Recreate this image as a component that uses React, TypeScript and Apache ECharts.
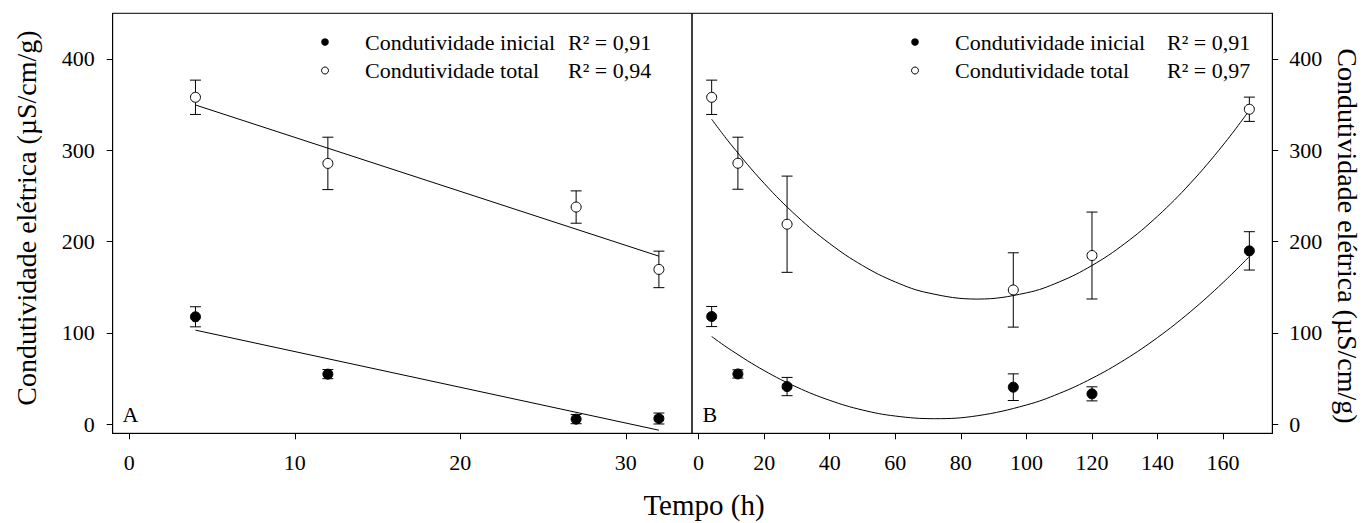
import React, { useEffect, useRef } from "react";
import * as echarts from "echarts";

// ---------- data ----------
const leftTimes = [4, 12, 27, 32];
const leftInitial = [117.6, 54.8, 5.5, 6.2];
const leftInitialErr = [11, 5, 5, 6];
const leftTotal = [358, 285.6, 237.8, 169.5];
const leftTotalErr = [18.8, 28.7, 17.7, 20];
const leftFitTimes = [4, 32];
const leftInitialFit = [103, -6.6];
const leftTotalFit = [349.6, 184];

const rightTimes = [4, 12, 27, 96, 120, 168];
const rightInitial = [117.9, 55, 41.2, 40.5, 33.2, 189.8];
const rightInitialErr = [11, 4.5, 10, 14.6, 7.7, 21];
const rightTotal = [358, 285.8, 219, 147, 184.7, 344.9];
const rightTotalErr = [18.8, 28.5, 52.7, 40.7, 47.6, 13.3];
// regression curves
const rightInitialFitTimes = [4, 10, 20, 30, 40, 50, 60, 72, 85, 100, 110, 120, 130, 140, 150, 160, 168];
const rightInitialFit = [96, 80.9, 58.7, 40.5, 26.1, 15.5, 8.9, 6, 9.2, 21, 33.6, 50.2, 70.6, 94.9, 123.1, 155.2, 183.6];
const rightTotalFitTimes = [4, 10, 20, 30, 40, 50, 60, 70, 85, 100, 110, 120, 130, 140, 150, 160, 168];
const rightTotalFit = [334, 305.8, 263.8, 227.8, 197.8, 173.8, 155.8, 143.8, 137, 143.8, 155.8, 173.8, 197.8, 227.8, 263.8, 305.8, 343.7];

const leftXTicks = [0, 10, 20, 30];
const rightXTicks = [0, 20, 40, 60, 80, 100, 120, 140, 160];
const yTicks = [0, 100, 200, 300, 400];

const legendLabels = ["Condutividade inicial", "Condutividade total"];
const leftR2 = ["R² = 0,91", "R² = 0,94"];
const rightR2 = ["R² = 0,91", "R² = 0,97"];
const panelLetters = ["A", "B"];
const xTitle = "Tempo (h)";
const yTitle = "Condutividade elétrica (µS/cm/g)";

// ---------- helpers ----------
const FONT = "Liberation Serif";
const BLACK = "#000";

const pts = (xs: number[], ys: number[]) => xs.map((x, i) => [x, ys[i]]);
const errs = (xs: number[], ys: number[], es: number[]) =>
  xs.map((x, i) => [x, ys[i] - es[i], ys[i] + es[i]]);

const errRender = (_params: any, api: any) => {
  const x = api.value(0);
  const lo = api.coord([x, api.value(1)]);
  const hi = api.coord([x, api.value(2)]);
  const w = 5.5;
  const style = { stroke: BLACK, lineWidth: 1, fill: "none" };
  return {
    type: "group",
    children: [
      { type: "line", shape: { x1: hi[0], y1: hi[1], x2: lo[0], y2: lo[1] }, style },
      { type: "line", shape: { x1: hi[0] - w, y1: hi[1], x2: hi[0] + w, y2: hi[1] }, style },
      { type: "line", shape: { x1: lo[0] - w, y1: lo[1], x2: lo[0] + w, y2: lo[1] }, style },
    ],
  };
};

const axisCommon = {
  type: "value" as const,
  axisLine: { show: true, onZero: false, lineStyle: { color: BLACK, width: 1 } },
  splitLine: { show: false },
};

const xAxisFor = (grid: number, min: number, max: number, ticks: number[]) => ({
  ...axisCommon,
  gridIndex: grid,
  min,
  max,
  position: "bottom",
  axisTick: { show: true, length: 6, customValues: ticks, lineStyle: { color: BLACK } },
  axisLabel: {
    show: true,
    customValues: ticks,
    margin: 18,
    fontSize: 22,
    fontFamily: FONT,
    color: BLACK,
  },
});

const yAxisFor = (grid: number, pos: "left" | "right") => ({
  ...axisCommon,
  gridIndex: grid,
  min: -10,
  max: 450,
  position: pos,
  axisTick: { show: true, length: 6, customValues: yTicks, lineStyle: { color: BLACK } },
  axisLabel: {
    show: true,
    customValues: yTicks,
    margin: pos === "left" ? 18 : 17,
    fontSize: 22,
    fontFamily: FONT,
    color: BLACK,
  },
});

const fitLine = (idx: number, xs: number[], ys: number[], smooth: boolean | number) => ({
  type: "line",
  xAxisIndex: idx,
  yAxisIndex: idx,
  data: pts(xs, ys),
  smooth,
  showSymbol: false,
  symbol: "none",
  lineStyle: { color: BLACK, width: 1 },
  z: 2,
  silent: true,
});

const errSeries = (idx: number, xs: number[], ys: number[], es: number[]) => ({
  type: "custom",
  xAxisIndex: idx,
  yAxisIndex: idx,
  renderItem: errRender,
  encode: { x: 0, y: [1, 2] },
  data: errs(xs, ys, es),
  z: 3,
  silent: true,
});

const pointSeries = (idx: number, name: string, xs: number[], ys: number[], fill: string) => ({
  name,
  type: "scatter",
  xAxisIndex: idx,
  yAxisIndex: idx,
  data: pts(xs, ys),
  symbol: "circle",
  symbolSize: 10,
  itemStyle: { color: fill, borderColor: BLACK, borderWidth: 1, opacity: 1 },
  emphasis: { disabled: true },
  z: 5,
});

const legendGraphic = (dotX: number, textX: number, r2X: number, r2: string[]) => [
  { type: "circle", shape: { cx: dotX, cy: 42, r: 3.8 }, style: { fill: BLACK } },
  {
    type: "circle",
    shape: { cx: dotX, cy: 70.5, r: 3.5 },
    style: { fill: "#fff", stroke: BLACK, lineWidth: 1 },
  },
  ...legendLabels.map((t, i) => ({
    type: "text",
    x: textX,
    y: 42 + i * 28.5,
    style: { text: t, fontSize: 22, fontFamily: FONT, fill: BLACK, align: "left", verticalAlign: "middle" },
  })),
  ...r2.map((t, i) => ({
    type: "text",
    x: r2X,
    y: 42 + i * 28.5,
    style: { text: t, fontSize: 22, fontFamily: FONT, fill: BLACK, align: "left", verticalAlign: "middle" },
  })),
];

export default function App() {
  const ref = useRef<HTMLDivElement>(null);

  useEffect(() => {
    if (!ref.current) return;
    const chart = echarts.init(ref.current, undefined, { renderer: "svg" });

    const option: any = {
      animation: false,
      backgroundColor: "#fff",
      textStyle: { fontFamily: FONT },
      grid: [
        { left: 112.7, top: 13.3, width: 579.3, height: 420, show: true, borderColor: BLACK, borderWidth: 1, backgroundColor: "transparent" },
        { left: 692, top: 13.3, width: 580.3, height: 420, show: true, borderColor: BLACK, borderWidth: 1, backgroundColor: "transparent" },
      ],
      xAxis: [xAxisFor(0, -1, 34, leftXTicks), xAxisFor(1, -2, 175, rightXTicks)],
      yAxis: [yAxisFor(0, "left"), yAxisFor(1, "right")],
      series: [
        fitLine(0, leftFitTimes, leftInitialFit, false),
        fitLine(0, leftFitTimes, leftTotalFit, false),
        errSeries(0, leftTimes, leftInitial, leftInitialErr),
        errSeries(0, leftTimes, leftTotal, leftTotalErr),
        pointSeries(0, legendLabels[0], leftTimes, leftInitial, BLACK),
        pointSeries(0, legendLabels[1], leftTimes, leftTotal, "#fff"),
        fitLine(1, rightInitialFitTimes, rightInitialFit, 0.4),
        fitLine(1, rightTotalFitTimes, rightTotalFit, 0.4),
        errSeries(1, rightTimes, rightInitial, rightInitialErr),
        errSeries(1, rightTimes, rightTotal, rightTotalErr),
        pointSeries(1, legendLabels[0], rightTimes, rightInitial, BLACK),
        pointSeries(1, legendLabels[1], rightTimes, rightTotal, "#fff"),
      ],
      graphic: [
        ...legendGraphic(325, 365, 568, leftR2),
        ...legendGraphic(915, 955, 1167, rightR2),
        {
          type: "text",
          x: 122.5,
          y: 414,
          style: { text: panelLetters[0], fontSize: 22, fontFamily: FONT, fill: BLACK, align: "left", verticalAlign: "middle" },
        },
        {
          type: "text",
          x: 702.5,
          y: 414,
          style: { text: panelLetters[1], fontSize: 22, fontFamily: FONT, fill: BLACK, align: "left", verticalAlign: "middle" },
        },
        {
          type: "text",
          x: 704,
          y: 505,
          style: { text: xTitle, fontSize: 29, fontFamily: FONT, fill: BLACK, align: "center", verticalAlign: "middle" },
        },
        {
          type: "text",
          x: 26,
          y: 218,
          rotation: Math.PI / 2,
          style: { text: yTitle, fontSize: 28, fontFamily: FONT, fill: BLACK, align: "center", verticalAlign: "middle" },
        },
        {
          type: "text",
          x: 1347,
          y: 236,
          rotation: -Math.PI / 2,
          style: { text: yTitle, fontSize: 28, fontFamily: FONT, fill: BLACK, align: "center", verticalAlign: "middle" },
        },
      ],
    };

    chart.setOption(option);
    return () => chart.dispose();
  }, []);

  return (
    <div
      ref={ref}
      style={{ position: "fixed", left: 0, top: 0, width: 1368, height: 523, background: "#fff" }}
    />
  );
}
